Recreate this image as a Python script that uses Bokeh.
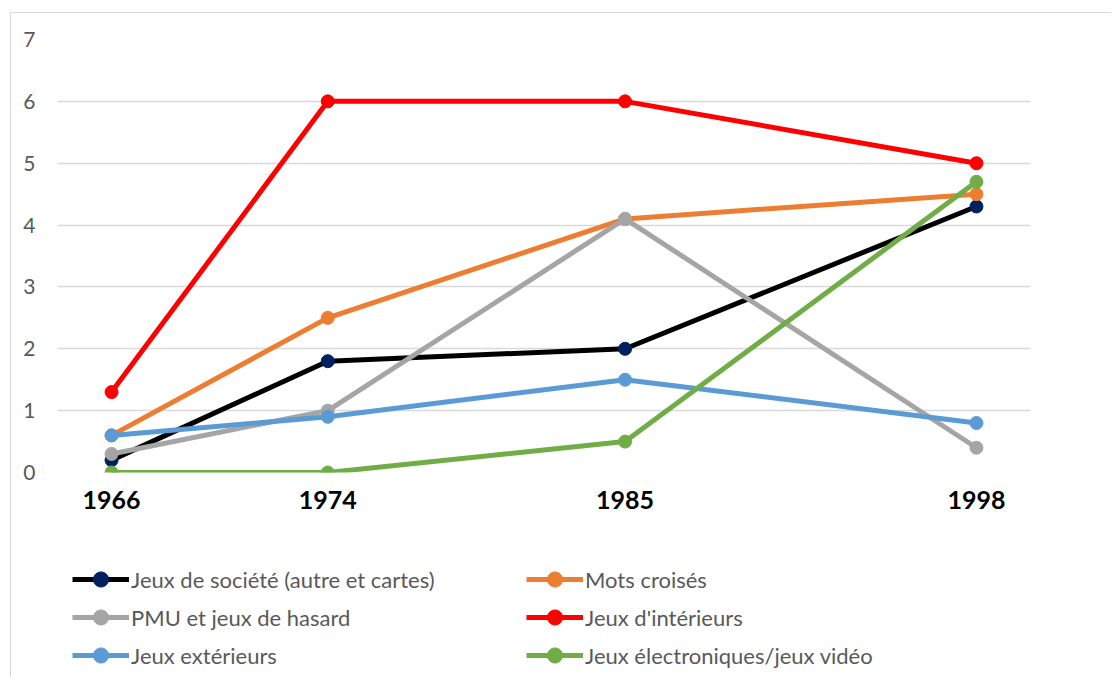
from bokeh.plotting import figure
from bokeh.layouts import column
from bokeh.models import Legend, LegendItem, FixedTicker, Range1d
from bokeh.embed import file_html
from bokeh.resources import INLINE

years = [1966, 1974, 1985, 1998]
societe = [0.2, 1.8, 2.0, 4.3]
mots_croises = [0.6, 2.5, 4.1, 4.5]
pmu = [0.3, 1.0, 4.1, 0.4]
interieurs = [1.3, 6.0, 6.0, 5.0]
exterieurs = [0.6, 0.9, 1.5, 0.8]
electroniques = [0.0, 0.0, 0.5, 4.7]

series = [
    ("Jeux de société (autre et cartes)", societe, "#000000", "#002060"),
    ("Mots croisés", mots_croises, "#ED7D31", "#ED7D31"),
    ("PMU et jeux de hasard", pmu, "#A5A5A5", "#A5A5A5"),
    ("Jeux d'intérieurs", interieurs, "#FF0000", "#FF0000"),
    ("Jeux extérieurs", exterieurs, "#5B9BD5", "#5B9BD5"),
    ("Jeux électroniques/jeux vidéo", electroniques, "#70AD47", "#70AD47"),
]
y_ticks = [0, 1, 2, 3, 4, 5, 6, 7]

W = 1100
H1 = 507
H2 = 157

p = figure(width=W, height=H1, x_range=Range1d(1964, 2000), y_range=Range1d(0, 7),
           output_backend="svg", toolbar_location=None,
           min_border_left=46, min_border_right=81, min_border_top=26, min_border_bottom=48)
p.outline_line_color = None
p.background_fill_color = "white"
p.border_fill_color = "white"

p.xgrid.grid_line_color = None
p.ygrid.grid_line_color = "#d9d9d9"
p.ygrid.grid_line_width = 1.5
p.ygrid.ticker = FixedTicker(ticks=y_ticks)

p.xaxis.ticker = FixedTicker(ticks=years)
p.xaxis.axis_line_color = None
p.xaxis.major_tick_line_color = None
p.xaxis.minor_tick_line_color = None
p.xaxis.major_label_text_font = "Lato"
p.xaxis.major_label_text_font_style = "bold"
p.xaxis.major_label_text_font_size = "25px"
p.xaxis.major_label_text_color = "#000000"
p.xaxis.major_label_standoff = 12

p.yaxis.ticker = FixedTicker(ticks=y_ticks)
p.yaxis.axis_line_color = None
p.yaxis.major_tick_line_color = None
p.yaxis.minor_tick_line_color = None
p.yaxis.major_label_text_font = "Lato"
p.yaxis.major_label_text_font_size = "21px"
p.yaxis.major_label_text_color = "#595959"
p.yaxis.major_label_standoff = 16

for name, vals, lc, mc in series:
    p.line(years, vals, line_color=lc, line_width=5)
    p.scatter(years, vals, size=13, fill_color=mc, line_color=mc)

# legend panel (same series, drawn outside its visible range so only the legend shows)
p2 = figure(width=W, height=H2, x_range=Range1d(0, 1), y_range=Range1d(0, 1),
            output_backend="svg", toolbar_location=None,
            x_axis_location=None, y_axis_location=None,
            min_border_left=0, min_border_right=0, min_border_top=0, min_border_bottom=0)
p2.outline_line_color = None
p2.xgrid.visible = False
p2.ygrid.visible = False
p2.background_fill_color = "white"
p2.border_fill_color = "white"

items = []
for name, vals, lc, mc in series:
    ln = p2.line(years, vals, line_color=lc, line_width=5)
    sc = p2.scatter(years, vals, size=13, fill_color=mc, line_color=mc)
    items.append(LegendItem(label=name, renderers=[ln, sc]))

legend = Legend(items=items, location=(15, 3), orientation="horizontal", ncols=2,
                glyph_width=57, glyph_height=38, label_standoff=2, spacing=0,
                label_width=395, padding=0, margin=0,
                border_line_color=None, background_fill_alpha=0,
                label_text_font="Lato", label_text_font_size="22px",
                label_text_color="#595959")
p2.add_layout(legend, "center")

layout = column(p, p2, spacing=0)
layout.margin = (12, 0, 0, 10)
layout.styles = {"border-top": "1px solid #d9d9d9", "border-left": "1px solid #d9d9d9"}

open("out.html", "w").write(file_html(layout, INLINE))
